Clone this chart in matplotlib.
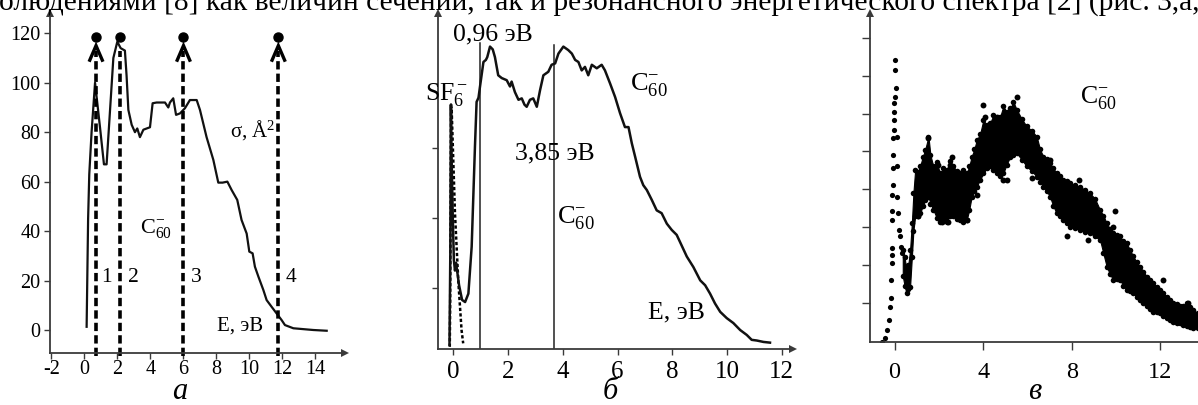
import matplotlib
matplotlib.use('Agg')
import matplotlib.pyplot as plt

plt.rcParams['font.family'] = ['Liberation Serif', 'DejaVu Serif']
plt.rcParams['mathtext.fontset'] = 'custom'
plt.rcParams['mathtext.rm'] = 'Liberation Serif'
plt.rcParams['mathtext.it'] = 'Liberation Serif:italic'
plt.rcParams['axes.unicode_minus'] = False

# ---------------- data ----------------
top_text = "олюдениями [8] как величин сечений, так и резонансного энергетического спектра [2] (рис. 3,а,"

# panel a: cross-section sigma(E)
a_E = [0.13, 0.22, 0.29, 0.43, 0.64, 0.94, 1.18, 1.34, 1.55, 1.75, 1.99, 2.19, 2.45, 2.55,
       2.66, 2.86, 3.06, 3.20, 3.36, 3.57, 3.97, 4.13, 4.37, 4.88, 5.08, 5.18, 5.38, 5.55,
       5.79, 6.09, 6.39, 6.80, 7.00, 7.40, 7.81, 8.11, 8.37, 8.66, 8.92, 9.26, 9.52, 9.83,
       9.99, 10.19, 10.33, 10.54, 10.84, 11.04, 11.34, 11.95, 12.15, 12.66, 13.87, 14.68]
a_sig = [1.3, 45, 63, 80, 100, 82, 67, 67, 89, 110, 116.6, 114, 113, 103,
         89, 83, 80, 81.5, 78, 81, 82, 91.7, 92, 92, 90, 92, 93.7, 87,
         87.6, 89.7, 93, 93, 89, 78, 68.8, 59.6, 59.6, 60, 56.6, 52.6, 44.5, 39,
         31.7, 31, 25.6, 21.6, 16.2, 12.1, 9.4, 4, 2, 0.7, 0, -0.3]
a_lines = [0.70, 2.15, 6.0, 11.75]
a_line_labels = ["1", "2", "3", "4"]
a_label_E = [1.04, 2.65, 6.44, 12.21]
a_arrow = [True, False, True, True]
a_dot_sig = 118.6
a_xticks = [-2, 0, 2, 4, 6, 8, 10, 12, 14]
a_yticks = [0, 20, 40, 60, 80, 100, 120]

# panel b: resonance spectrum (solid) and SF6- calibration (dashed)
b_E = [-0.14, -0.11, -0.09, -0.06, -0.02, 0.02, 0.06, 0.10, 0.21, 0.32, 0.43, 0.55, 0.67,
       0.79, 0.85, 0.92, 0.975, 1.10, 1.19, 1.24, 1.34, 1.44, 1.52, 1.64, 1.77, 1.95, 2.07,
       2.13, 2.25, 2.38, 2.50, 2.60, 2.68, 2.80, 2.92, 3.05, 3.17, 3.29, 3.47, 3.59, 3.72,
       3.84, 4.02, 4.20, 4.33, 4.45, 4.57, 4.69, 4.81, 4.93, 5.06, 5.24, 5.42, 5.54, 5.73,
       5.91, 6.09, 6.27, 6.40, 6.52, 6.64, 6.82, 6.94, 7.07, 7.25, 7.43, 7.61, 7.80, 7.98,
       8.16, 8.28, 8.53, 8.77, 9.02, 9.20, 9.38, 9.56, 9.75, 9.99, 10.23, 10.48, 10.72,
       10.90, 11.09, 11.33, 11.57]
b_v = [0.19, 1.5, 3.62, 2.8, 2.0, 1.4, 1.25, 1.36, 1.04, 0.83, 0.80, 0.92, 1.59,
       3.02, 3.66, 3.72, 3.88, 4.23, 4.26, 4.30, 4.45, 4.41, 4.30, 4.04, 4.00, 3.97, 3.88,
       3.95, 3.80, 3.69, 3.71, 3.62, 3.59, 3.69, 3.71, 3.59, 3.83, 4.04, 4.09, 4.19, 4.21,
       4.35, 4.45, 4.40, 4.35, 4.26, 4.23, 4.11, 4.16, 4.04, 4.19, 4.14, 4.19, 4.11, 3.92,
       3.73, 3.50, 3.30, 3.30, 3.07, 2.88, 2.59, 2.47, 2.40, 2.26, 2.11, 2.07, 1.92, 1.83,
       1.76, 1.66, 1.45, 1.30, 1.11, 1.04, 0.92, 0.78, 0.66, 0.57, 0.50, 0.40, 0.33,
       0.26, 0.25, 0.23, 0.22]
sf6_E = [-0.13, -0.115, -0.10, -0.09, -0.08, -0.06, 0.06, 0.18, 0.30, 0.36]
sf6_v = [0.16, 0.8, 2.0, 3.2, 3.62, 3.54, 2.07, 1.11, 0.40, 0.21]
b_vlines_E = [0.975, 3.68]
b_vlines_top = [4.50, 4.47]
b_xticks = [0, 2, 4, 6, 8, 10, 12]
b_yticks = [1, 2, 3]

# panel c: scattered spectrum
c_peak_E = [-0.58, -0.43, -0.32, -0.23, -0.20, -0.17, -0.17, -0.13, -0.13, -0.13, -0.13,
            -0.10, -0.10, -0.05, -0.05, -0.08, -0.05, -0.02, -0.02, -0.02, -0.02, 0.02,
            0.07, 0.02, 0.02, 0.10, 0.10, 0.13, 0.17, 0.22, 0.25, 0.28, 0.32]
c_peak_v = [-0.03, 0.06, 0.28, 0.54, 0.89, 1.12, 1.60, 2.04, 2.26, 2.44, 3.19,
            3.41, 3.85, 4.11, 4.56, 4.91, 5.35, 5.57, 5.83, 6.05, 6.28, 6.45,
            6.67, 7.16, 7.42, 5.39, 4.60, 3.80, 3.37, 2.92, 2.75, 2.48, 2.31]
c_E = [0.37, 0.45, 0.54, 0.62, 0.70, 0.78, 0.85, 0.93, 1.05, 1.15, 1.27, 1.38, 1.53, 1.62,
       1.75, 1.90, 2.05, 2.20, 2.36, 2.50, 2.66, 2.80, 2.96, 3.10, 3.26, 3.37, 3.48, 3.60,
       3.71, 3.86, 4.01, 4.16, 4.31, 4.46, 4.61, 4.76, 4.91, 5.06, 5.22, 5.37, 5.52, 5.75,
       5.97, 6.20, 6.42, 6.57, 6.72, 6.87, 7.02, 7.17, 7.32, 7.47, 7.62, 7.77, 7.92, 8.15,
       8.37, 8.60, 8.83, 9.05, 9.28, 9.43, 9.58, 9.73, 9.88, 10.03, 10.18, 10.33, 10.48,
       10.63, 10.78, 10.93, 11.08, 11.24, 11.39, 11.54, 11.69, 11.84, 11.99, 12.14, 12.29,
       12.44, 12.59, 12.74, 12.89, 13.04, 13.19, 13.34, 13.49, 13.70, 14.20]
c_hi = [2.40, 2.20, 1.86, 2.00, 2.39, 3.10, 3.90, 4.51, 4.45, 4.60, 4.85, 5.04, 5.39, 4.90,
        4.60, 4.72, 4.42, 4.55, 4.51, 4.75, 4.60, 4.48, 4.42, 4.50, 4.42, 4.60, 4.86, 5.05,
        5.30, 5.45, 5.83, 5.70, 5.74, 5.95, 5.83, 5.90, 6.19, 6.05, 6.14, 6.30, 6.10, 5.85,
        5.66, 5.55, 5.39, 5.05, 4.86, 4.80, 4.69, 4.55, 4.42, 4.35, 4.25, 4.22, 4.16, 4.10,
        4.07, 3.98, 3.89, 3.75, 3.45, 3.30, 3.10, 2.95, 2.84, 2.78, 2.75, 2.62, 2.57,
        2.40, 2.22, 2.08, 1.95, 1.82, 1.69, 1.60, 1.51, 1.42, 1.34, 1.25, 1.16,
        1.08, 0.98, 0.95, 0.90, 0.92, 0.98, 0.88, 0.81, 0.72, 0.60]
c_lo = [1.70, 1.45, 1.25, 1.35, 1.42, 2.20, 2.90, 3.28, 3.30, 3.36, 3.55, 3.72, 3.80, 3.62,
        3.45, 3.25, 3.14, 3.20, 3.14, 3.30, 3.28, 3.22, 3.19, 3.12, 3.19, 3.45, 3.80, 3.95,
        4.07, 4.25, 4.42, 4.55, 4.60, 4.50, 4.42, 4.35, 4.42, 4.65, 4.86, 4.90, 4.95, 4.78,
        4.60, 4.48, 4.33, 4.20, 4.07, 3.95, 3.80, 3.55, 3.36, 3.28, 3.19, 3.10, 3.01, 2.98,
        2.92, 2.88, 2.84, 2.75, 2.66, 2.30, 1.95, 1.75, 1.60, 1.62, 1.60, 1.45, 1.34,
        1.30, 1.25, 1.15, 1.07, 0.98, 0.90, 0.82, 0.76, 0.74, 0.72, 0.65, 0.59,
        0.55, 0.50, 0.47, 0.45, 0.40, 0.37, 0.35, 0.32, 0.32, 0.28]
c_out_E = [1.53, 1.98, 2.58, 2.51, 2.13, 2.43, 3.26, 1.07, 3.71, 4.01, 4.09, 4.61, 4.91,
           5.52, 5.07, 6.19, 7.02, 8.33, 7.77, 8.75, 9.95, 9.88, 12.14, 13.26]
c_out_v = [5.35, 4.64, 4.86, 4.64, 3.14, 3.14, 3.19, 3.28, 3.85, 6.23, 5.92, 5.92, 4.25,
           6.43, 4.25, 4.29, 4.78, 4.25, 2.75, 2.66, 3.41, 3.01, 1.60, 0.98]
c_xticks = [0, 4, 8, 12]
c_yticks = [1, 2, 3, 4, 5, 6, 7, 8]

# ---------------- figure ----------------
W, H = 1198, 405
fig = plt.figure(figsize=(W / 100, H / 100), dpi=100)
AX = '#3a3a3a'


def px_axes(x0, y0, x1, y1):
    return fig.add_axes([x0 / W, 1 - y1 / H, (x1 - x0) / W, (y1 - y0) / H])


def style(ax, size, tl, pad, arrow_x=True):
    for s in ['top', 'right']:
        ax.spines[s].set_visible(False)
    for s in ['left', 'bottom']:
        ax.spines[s].set_color(AX)
        ax.spines[s].set_linewidth(1.3)
    ax.tick_params(direction='out', length=tl, width=1.0, color=AX,
                   labelsize=size, pad=pad)
    ax.plot(0, 1, marker='^', ms=6, color=AX, transform=ax.transAxes,
            clip_on=False, markeredgewidth=0)
    if arrow_x:
        ax.plot(1, 0, marker='>', ms=6, color=AX, transform=ax.transAxes,
                clip_on=False, markeredgewidth=0)
    ax.patch.set_alpha(0)


# ---- panel a ----
ax = px_axes(50, 13, 345, 353)
ax.set_xlim(-2.09, 15.79)
ax.set_ylim(-9.3, 128.2)
style(ax, 14.5, 4, 1)
ax.set_xticks(a_xticks)
ax.set_xticklabels([str(v) for v in a_xticks])
ax.set_yticks(a_yticks)
ax.tick_params(axis='y', pad=3)
ax.plot(a_E, a_sig, color='#111111', lw=1.6, solid_joinstyle='round')
for x, lab, lx, arr in zip(a_lines, a_line_labels, a_label_E, a_arrow):
    ax.plot([x, x], [-10.5, 113], color='black', lw=2.6,
            ls=(0, (2.3, 1.15)), clip_on=False)
    if arr:
        ax.plot([x - 0.42, x, x + 0.42], [108.5, 115, 108.5], color='black',
                lw=2.4, solid_joinstyle='miter', solid_capstyle='butt')
    ax.text(lx, 19.5, lab, fontsize=15.5, ha='left', va='baseline')
ax.plot(a_lines, [a_dot_sig] * len(a_lines), 'o', ms=6.5, color='black',
        clip_on=False)
ax.text(8.82, 78.2, "σ, Å$^2$", fontsize=15, ha='left', va='baseline')
ax.text(3.36, 39.1, "C$_{60}^{-}$", fontsize=16, ha='left', va='baseline')
ax.text(8.01, -0.2, "E, эВ", fontsize=15, ha='left', va='baseline')

# ---- panel b ----
ax = px_axes(438, 13, 793, 349)
ax.set_xlim(-0.56, 12.41)
ax.set_ylim(0.129, 4.93)
style(ax, 18, 4, 5)
ax.set_xticks(b_xticks)
ax.set_yticks(b_yticks)
ax.set_yticklabels([])
for x, t in zip(b_vlines_E, b_vlines_top):
    ax.plot([x, x], [0.129, t], color='#222222', lw=1.1)
ax.plot(sf6_E, sf6_v, color='black', lw=1.8, ls=(0, (1.3, 0.9)))
ax.plot(b_E, b_v, color='#111111', lw=1.8, solid_joinstyle='round')
ax.text(1.45, 4.54, "0,96 эВ", fontsize=18.5, ha='center', va='baseline')
ax.text(-1.03, 3.69, "SF$_6^-$", fontsize=18.5, ha='left', va='baseline')
ax.text(3.71, 2.84, "3,85 эВ", fontsize=18.5, ha='center', va='baseline')
ax.text(3.79, 1.93, "C$_{60}^{-}$", fontsize=19, ha='left', va='baseline')
ax.text(6.46, 3.83, "C$_{60}^{-}$", fontsize=19, ha='left', va='baseline')
ax.text(7.11, 0.57, "E, эВ", fontsize=18.5, ha='left', va='baseline')

# ---- panel c ----
ax = px_axes(870, 13, 1230, 342.3)
ax.set_xlim(-1.11, 15.15)
ax.set_ylim(-0.05, 8.66)
style(ax, 17.5, 6, 8, arrow_x=False)
ax.set_xticks(c_xticks)
ax.set_yticks(c_yticks)
ax.set_yticklabels([])
ax.fill_between(c_E, c_lo, c_hi, color='black', lw=0.8, edgecolor='black')
ax.scatter(c_E, c_hi, s=16, color='black', lw=0)
ax.scatter(c_E, c_lo, s=16, color='black', lw=0)
ax.scatter(c_peak_E, c_peak_v, s=14, color='black', lw=0)
ax.scatter(c_out_E, c_out_v, s=18, color='black', lw=0)
ax.text(8.37, 6.27, "C$_{60}^{-}$", fontsize=18.5, ha='left', va='baseline')

# ---- panel letters ----
for x, lab in zip([180, 610, 1035], ["а", "б", "в"]):
    fig.text(x / W, 1 - 399 / H, lab, fontsize=22, style='italic',
             ha='center', va='baseline')

# ---- top text line (cut at the top edge), fitted to the figure width ----
t = fig.text(-1 / W, 1 - 9.5 / H, top_text, fontsize=20, ha='left', va='baseline')
fig.canvas.draw()
w = t.get_window_extent().width
t.set_fontsize(20 * 1202 / w)

fig.savefig('out.png', dpi=100)
